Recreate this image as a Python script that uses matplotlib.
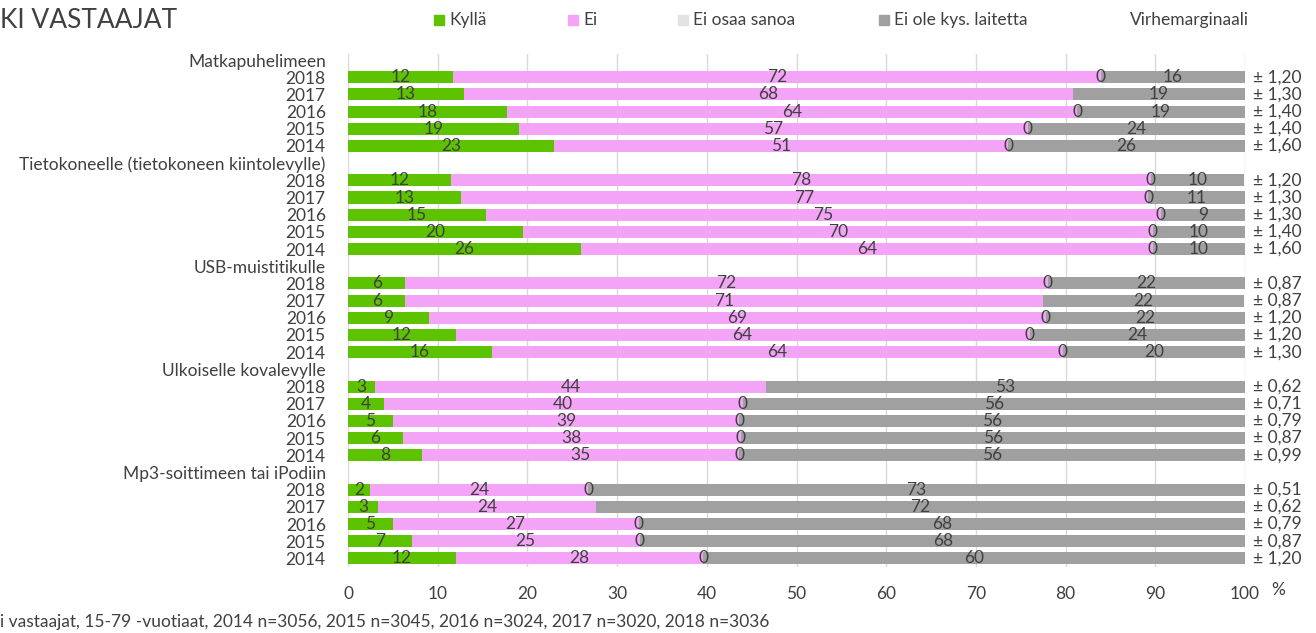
import numpy as np
import matplotlib
matplotlib.use("Agg")
from matplotlib import pyplot as plt
from matplotlib.patches import Rectangle

plt.rcParams['font.family'] = ['Lato', 'DejaVu Sans']

# data
groups = ["Matkapuhelimeen", "Tietokoneelle (tietokoneen kiintolevylle)",
          "USB-muistitikulle", "Ulkoiselle kovalevylle", "Mp3-soittimeen tai iPodiin"]
years = ["2018", "2017", "2016", "2015", "2014"]

kylla = [11.7, 12.9, 17.7, 19.1, 23.0,
         11.5, 12.6, 15.4, 19.5, 26.0,
         6.4, 6.4, 9.0, 12.0, 16.0,
         3.0, 4.0, 5.0, 6.1, 8.3,
         2.4, 3.4, 5.0, 7.1, 12.0]
ei = [72.2, 67.9, 63.6, 56.7, 50.6,
      78.0, 76.6, 75.2, 70.2, 63.7,
      71.6, 71.1, 68.8, 64.0, 63.7,
      43.6, 40.0, 38.6, 37.7, 35.3,
      24.4, 24.2, 27.4, 25.4, 27.6]
nan = np.nan
ei_osaa = [0, nan, 0, 0, 0,
           0, 0, 0, 0, 0,
           0, nan, 0, 0, 0,
           nan, 0, 0, 0, 0,
           0, nan, 0, 0, 0]
ei_ole = [16.1, 19.2, 18.7, 24.2, 26.4,
          10.4, 10.8, 9.4, 10.3, 10.3,
          22.0, 22.4, 22.2, 24.0, 20.3,
          53.4, 56.0, 56.4, 56.2, 56.4,
          73.2, 72.4, 67.6, 67.6, 60.4]
margin = [1.20, 1.30, 1.40, 1.40, 1.60,
          1.20, 1.30, 1.30, 1.40, 1.60,
          0.87, 0.87, 1.20, 1.20, 1.30,
          0.62, 0.71, 0.79, 0.87, 0.99,
          0.51, 0.62, 0.79, 0.87, 1.20]

c_kylla = '#5DC300'
c_ei = '#F4A4F7'
c_eos = '#E3E3E3'
c_eiole = '#A0A0A0'
txt = '#404040'

fig = plt.figure(figsize=(13.16, 6.33), dpi=100)
ax = fig.add_axes([348/1316, 1-567/633, (1245-348)/1316, (567-54)/633])

# y positions: header row then 5 years per group
ypos = []
ylabels = []
row = 0
for g in groups:
    ylabels.append(g)
    row += 1
    for yr in years:
        ypos.append(row)
        ylabels.append(yr)
        row += 1

ypos = np.array(ypos)
k = np.array(kylla)
e = np.array(ei)
eos = np.nan_to_num(np.array(ei_osaa))
eo = np.array(ei_ole)

h = 0.7
ax.barh(ypos, k, height=h, color=c_kylla, zorder=2)
ax.barh(ypos, e, left=k, height=h, color=c_ei, zorder=2)
ax.barh(ypos, eos, left=k+e, height=h, color=c_eos, zorder=2)
ax.barh(ypos, eo, left=k+e+eos, height=h, color=c_eiole, zorder=2)

fs = 12.5
for i, y in enumerate(ypos):
    ax.text(k[i]/2, y, f"{k[i]:.0f}", ha='center', va='center', fontsize=fs, color=txt, zorder=3)
    ax.text(k[i] + e[i]/2, y, f"{e[i]:.0f}", ha='center', va='center', fontsize=fs, color=txt, zorder=3)
    if not np.isnan(ei_osaa[i]):
        ax.text(k[i] + e[i] + eos[i]/2, y, f"{ei_osaa[i]:.0f}", ha='center', va='center',
                fontsize=fs, color=txt, zorder=3)
    ax.text(k[i] + e[i] + eos[i] + eo[i]/2, y, f"{eo[i]:.0f}", ha='center', va='center',
            fontsize=fs, color=txt, zorder=3)
    ax.text(1.009, y, "± " + f"{margin[i]:.2f}".replace('.', ','), transform=ax.get_yaxis_transform(),
            ha='left', va='center', fontsize=fs, color=txt, clip_on=False)

all_pos = list(range(row))
ax.set_yticks(all_pos)
ax.set_yticklabels(ylabels, fontsize=fs, color=txt)
ax.set_ylim(row - 0.5, -0.35)
ax.set_xlim(0, 100)
ax.set_xticks(range(0, 101, 10))
ax.set_xticklabels([str(v) for v in range(0, 101, 10)], fontsize=fs, color=txt)
ax.tick_params(axis='both', length=0)
ax.tick_params(axis='x', pad=14)
ax.tick_params(axis='y', pad=16)
for s in ax.spines.values():
    s.set_visible(False)
ax.grid(axis='x', color='#D9D9D9', linewidth=1, zorder=0)
ax.set_axisbelow(True)

ax.text(1.037, -0.045, "%", transform=ax.transAxes, ha='center', va='center', fontsize=fs, color=txt)

# title and legend
fig.text(0, 1-20/633, "KI VASTAAJAT", ha='left', va='center', fontsize=19, color=txt)
leg_items = [("Kyllä", c_kylla, 434), ("Ei", c_ei, 568), ("Ei osaa sanoa", c_eos, 678),
             ("Ei ole kys. laitetta", c_eiole, 879)]
ly = 20
for lab, col, px in leg_items:
    fig.patches.append(Rectangle((px/1316, 1-(ly+5)/633), 10/1316, 10/633, transform=fig.transFigure,
                                 color=col, figure=fig))
    fig.text((px+15)/1316, 1-ly/633, lab, ha='left', va='center', fontsize=fs, color=txt)
fig.text(1130/1316, 1-ly/633, "Virhemarginaali", ha='left', va='center', fontsize=fs, color=txt)

fig.text(0, 1-622/633, "i vastaajat, 15-79 -vuotiaat, 2014 n=3056, 2015 n=3045, 2016 n=3024, 2017 n=3020, 2018 n=3036",
         ha='left', va='center', fontsize=fs, color=txt)

fig.savefig("out.png", dpi=100)
